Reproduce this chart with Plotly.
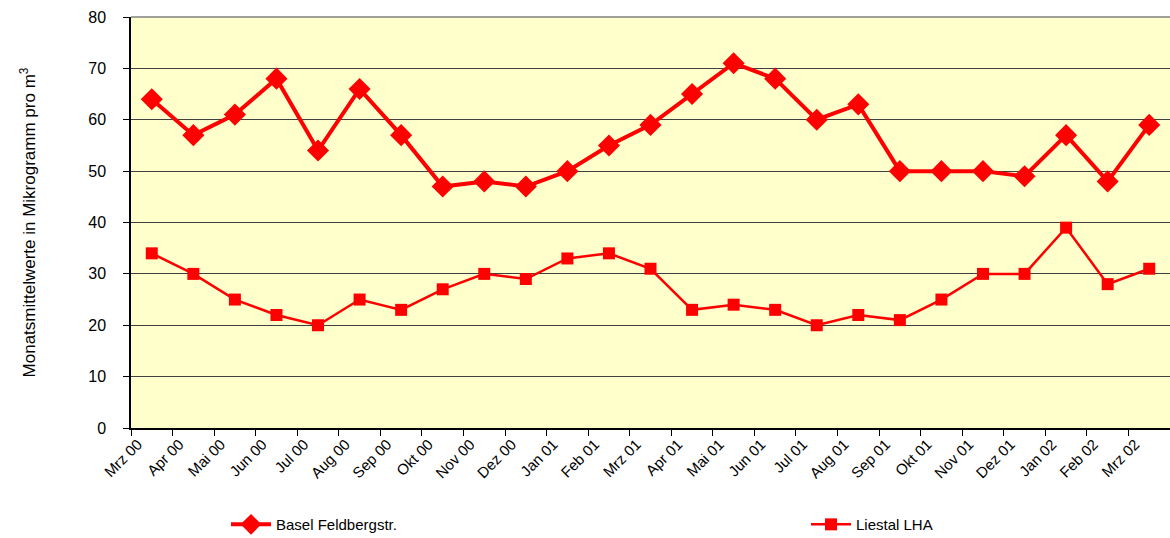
import plotly.graph_objects as go

months = ["Mrz 00", "Apr 00", "Mai 00", "Jun 00", "Jul 00", "Aug 00", "Sep 00", "Okt 00",
          "Nov 00", "Dez 00", "Jan 01", "Feb 01", "Mrz 01", "Apr 01", "Mai 01", "Jun 01",
          "Jul 01", "Aug 01", "Sep 01", "Okt 01", "Nov 01", "Dez 01", "Jan 02", "Feb 02", "Mrz 02"]
basel = [64, 57, 61, 68, 54, 66, 57, 47, 48, 47, 50, 55, 59, 65, 71, 68, 60, 63, 50, 50, 50, 49, 57, 48, 59]
liestal = [34, 30, 25, 22, 20, 25, 23, 27, 30, 29, 33, 34, 31, 23, 24, 23, 20, 22, 21, 25, 30, 30, 39, 28, 31]
y_ticks = [0, 10, 20, 30, 40, 50, 60, 70, 80]

RED = "#FF0000"
FONT = "Liberation Sans, Arial, sans-serif"

fig = go.Figure()
fig.add_trace(go.Scatter(
    x=months, y=basel, name="Basel Feldbergstr.", mode="lines+markers",
    line=dict(color=RED, width=4),
    marker=dict(symbol="diamond", size=17, color=RED),
    legend="legend",
))
fig.add_trace(go.Scatter(
    x=months, y=liestal, name="Liestal LHA", mode="lines+markers",
    line=dict(color=RED, width=2.5),
    marker=dict(symbol="square", size=12, color=RED),
    legend="legend2",
))

legend_common = dict(
    orientation="h", yanchor="middle", xanchor="left", itemwidth=40,
    font=dict(family=FONT, size=15, color="black"),
    bgcolor="rgba(0,0,0,0)",
)

fig.update_layout(
    width=1170, height=538,
    margin=dict(l=131, r=0, t=17, b=110, autoexpand=False),
    paper_bgcolor="white",
    plot_bgcolor="#FFFFCC",
    font=dict(family=FONT, size=15, color="black"),
    showlegend=True,
    legend=dict(x=(226 - 131) / 1039, y=-0.235, **legend_common),
    legend2=dict(x=(806 - 131) / 1039, y=-0.235, **legend_common),
)
fig.update_xaxes(
    type="category", categoryorder="array", categoryarray=months,
    range=[-0.5, len(months) - 0.5], automargin=False,
    tickson="boundaries", ticks="outside", ticklen=6, tickcolor="black",
    tickangle=-45, tickfont=dict(size=15), ticklabelshift=-14,
    showline=True, linecolor="black", linewidth=1.5, showgrid=False, zeroline=False,
)
fig.update_yaxes(
    range=[0, 80], tickvals=y_ticks, ticks="outside", ticklen=6, tickcolor="black",
    tickfont=dict(size=16), automargin=False, ticklabelstandoff=14,
    showline=True, linecolor="black", linewidth=1.5,
    showgrid=True, gridcolor="#404040", gridwidth=1, zeroline=False,
    title=dict(text="Monatsmittelwerte in Mikrogramm pro m<sup>3</sup>", font=dict(size=17), standoff=48),
)
# top border of plot area
fig.add_shape(type="line", xref="paper", yref="paper", x0=0, x1=1, y0=1, y1=1,
              line=dict(color="#808080", width=1.5))

fig.write_html(
    "out.html",
    config={"displayModeBar": False},
    post_script="document.body.style.margin='0';document.body.style.overflow='hidden';",
)
